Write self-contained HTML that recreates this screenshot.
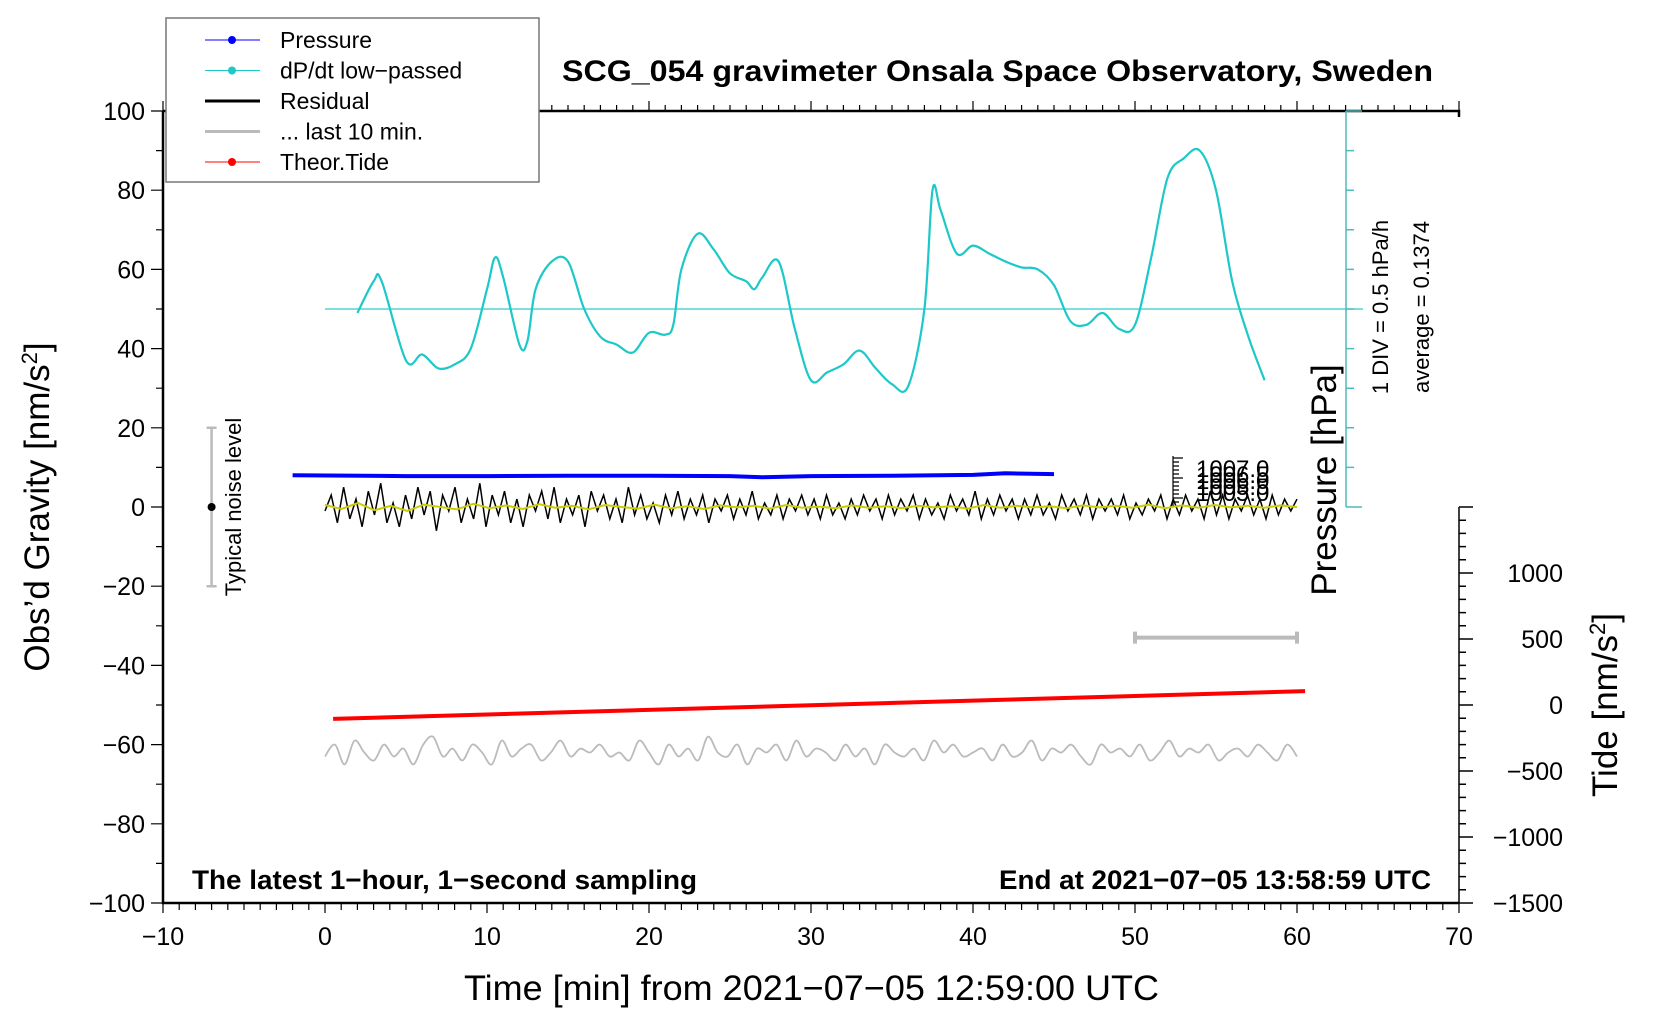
<!DOCTYPE html>
<html><head><meta charset="utf-8"><style>
body{margin:0;background:#fff;}
svg{display:block;font-family:"Liberation Sans",sans-serif;}
</style></head><body>
<svg id="c" width="1660" height="1020" viewBox="0 0 1660 1020" xmlns="http://www.w3.org/2000/svg">
<g id="marks"></g>
<g id="axes"></g>
</svg>
<script>
const dpTimes=[2,3,3.5,5,6,7,8,9,10,10.5,11,12,12.5,13,14,15,16,17,18,19,20,21,21.5,22,23,24,25,26,26.5,27,28,29,30,31,32,33,34,35,36,37,37.5,38,39,40,41,42,43,44,45,46,47,48,49,50,51,52,53,54,55,56,57,58];
const dpValues=[49,57,57,37,38.5,35,36,40,55,63,58,41,42,55,62,62,50,43,41,39,44,43.5,46,60,69,65,59,57,55,58,62,45,32,34,36,39.5,35,31,30.5,50,80,75,64,66,64,62,60.5,60,56,47,46,49,45,46,63,83,88,90,80,57,43,32];
const pressTimes=[-2,5,10,15,20,25,27,30,35,40,42,45];
const pressValues=[8,7.8,7.8,7.9,7.9,7.8,7.5,7.8,7.9,8.1,8.5,8.3];
const residual=[-1,3,-4,5,-3,2,-5,4,-2,6,-4,1,-5,3,-3,5,-2,4,-6,3,-1,5,-4,2,-3,6,-5,3,-2,4,-4,2,-5,3,-1,4,-3,5,-4,2,-2,3,-5,4,-1,3,-3,2,-4,5,-2,3,-3,1,-4,3,-2,4,-3,2,-2,3,-4,2,-1,3,-3,2,-2,4,-3,1,-2,3,-3,2,-1,3,-2,2,-3,3,-2,1,-3,2,-2,3,-1,2,-3,3,-2,2,-1,3,-3,2,-2,1,-3,3,-1,2,-2,4,-3,2,-2,3,-1,2,-3,2,-2,3,-2,1,-3,3,-1,2,-2,3,-3,2,-1,2,-2,3,-3,1,-2,2,-1,3,-3,2,-2,3,-1,2,-3,4,-2,3,-3,2,-1,3,-2,2,-3,3,-2,2,-1,2];
const lowpass=[0.5,-0.5,1,-0.8,0.3,-1,0.6,0,-0.6,0.8,-0.3,0.4,-0.5,0.7,-0.2,0.3,-0.6,0.5,0,-0.4,0.6,-0.3,0.2,-0.5,0.4,-0.1,0.3,-0.4,0.5,-0.2,0.1,-0.3,0.4,-0.2,0.2,-0.3,0.3,-0.1,0.2,-0.4,0.5,-0.2,0.3,-0.1,0.2,-0.3,0.4,-0.1,0.3,-0.2,0.6,-0.3,0.4,-0.2,0.5,-0.1,0.3,-0.2,0.4,0];
const last10=[-63,-60,-65,-59,-62,-64,-60,-63,-61,-65,-60,-58,-63,-61,-64,-60,-62,-65,-59,-63,-61,-60,-64,-62,-59,-63,-61,-62,-60,-63,-62,-64,-59,-62,-65,-60,-63,-61,-64,-58,-62,-63,-60,-65,-61,-62,-60,-64,-59,-63,-61,-62,-64,-60,-63,-61,-65,-60,-62,-63,-61,-64,-59,-62,-60,-63,-62,-61,-64,-60,-63,-62,-59,-64,-61,-62,-60,-63,-65,-60,-62,-61,-63,-60,-64,-62,-59,-63,-61,-62,-60,-64,-62,-61,-63,-60,-62,-64,-60,-63];
const tideTimes=[0.5,60.5];
const tideValues=[-105,105];
const xTicks=[-10,0,10,20,30,40,50,60,70];
const yTicks=[100,80,60,40,20,0,-20,-40,-60,-80,-100];
const tideTicks=[1000,500,0,-500,-1000,-1500];

const NS="http://www.w3.org/2000/svg";
const L=163,R=1459,T=111,B=903;
const X=t=>L+(t+10)*(R-L)/80;
const Y=g=>T+(100-g)*(B-T)/200;
function yTide(v){return Y(-50)-v*(198/1500);}
const marks=document.getElementById('marks'),axes=document.getElementById('axes');
function mk(tag,attrs,parent,text){const e=document.createElementNS(NS,tag);for(const k in attrs)e.setAttribute(k,attrs[k]);if(text!==undefined)e.textContent=text;parent.appendChild(e);return e;}
function pts(ts,vs,fy){return ts.map((t,i)=>X(t).toFixed(1)+','+fy(vs[i]).toFixed(1)).join(' ');}
function smooth(ts,vs,fy){const p=ts.map((t,i)=>[X(t),fy(vs[i])]);let d=`M${p[0][0]},${p[0][1]}`;
for(let i=0;i<p.length-1;i++){const p0=p[Math.max(0,i-1)],p1=p[i],p2=p[i+1],p3=p[Math.min(p.length-1,i+2)];
const c1=[p1[0]+(p2[0]-p0[0])/6,p1[1]+(p2[1]-p0[1])/6],c2=[p2[0]-(p3[0]-p1[0])/6,p2[1]-(p3[1]-p1[1])/6];
d+=`C${c1[0].toFixed(1)},${c1[1].toFixed(1)} ${c2[0].toFixed(1)},${c2[1].toFixed(1)} ${p2[0].toFixed(1)},${p2[1].toFixed(1)}`;}return d;}
function evenTimes(arr,a,b){return arr.map((_,i)=>a+(b-a)*i/(arr.length-1));}

let e=mk('line',{x1:X(0),x2:1363,y1:Y(50),y2:Y(50),stroke:'#3cc',"stroke-width":1.3},marks);

e=mk('path',{d:smooth(dpTimes,dpValues,Y),fill:'none',stroke:'#1cc8c8',"stroke-width":2.2},marks);

e=mk('polyline',{points:pts(pressTimes,pressValues,Y),fill:'none',stroke:'#0000ff',"stroke-width":4},marks);

e=mk('polyline',{points:pts(evenTimes(residual,0,60),residual,Y),fill:'none',stroke:'#000',"stroke-width":1.5},marks);

e=mk('polyline',{points:pts(evenTimes(lowpass,0,60),lowpass,Y),fill:'none',stroke:'#cccc00',"stroke-width":2},marks);

e=mk('path',{d:smooth(evenTimes(last10,0,60),last10,Y),fill:'none',stroke:'#bbb',"stroke-width":1.8},marks);

e=mk('polyline',{points:pts(tideTimes,tideValues,yTide),fill:'none',stroke:'#ff0000',"stroke-width":4},marks);

const sb=Y(-33);
e=mk('path',{d:`M${X(50)},${sb}H${X(60)}M${X(50)},${sb-6}V${sb+6}M${X(60)},${sb-6}V${sb+6}`,stroke:'#bbb',"stroke-width":4,fill:'none'},marks);

e=mk('path',{d:`M${X(-7)},${Y(20)}V${Y(-20)}M${X(-7)-5},${Y(20)}H${X(-7)+5}M${X(-7)-5},${Y(-20)}H${X(-7)+5}`,stroke:'#bbb',"stroke-width":2.5,fill:'none'},marks);

e=mk('circle',{cx:X(-7),cy:Y(0),r:4,fill:'#000'},marks);

e=mk('text',{x:0,y:0,transform:`translate(${X(-5.2)},${Y(0)}) rotate(-90)`,"text-anchor":"middle","font-size":22},marks,'Typical noise level');


e=mk('path',{d:`M${L},${T}V${B}H${R}M${L},${T}H${R}V${T+6}`,stroke:'#000',"stroke-width":2.5,fill:'none'},axes);

let d='';
for(let t=-10;t<=70;t++){const x=X(t);const maj=t%10===0;d+=`M${x},${B}V${B+(maj?10:7)}M${x},${T}V${T-(maj?10:6)}`;}
e=mk('path',{d:d,stroke:'#000',"stroke-width":1.2},axes);

xTicks.forEach(t=>{const el=mk('text',{x:X(t),y:B+42,"text-anchor":"middle","font-size":25},axes,String(t).replace('-','\u2212'));
});
d='';
for(let g=-100;g<=100;g+=10){d+=`M${L},${Y(g)}H${L-(g%20===0?12:7)}`;}
e=mk('path',{d:d,stroke:'#000',"stroke-width":1.2},axes);

yTicks.forEach(g=>{const el=mk('text',{x:L-18,y:Y(g)+9,"text-anchor":"end","font-size":25},axes,String(g).replace('-','\u2212'));
});
const tTop=yTide(1500);
d=`M${R},${tTop}V${B}`;
for(let v=-1500;v<=1500;v+=100){d+=`M${R},${yTide(v)}H${R+(v%500===0?14:7)}`;}
e=mk('path',{d:d,stroke:'#000',"stroke-width":1.5,fill:'none'},axes);

tideTicks.forEach(v=>{const el=mk('text',{x:1563,y:yTide(v)+9,"text-anchor":"end","font-size":25},axes,String(v).replace('-','\u2212'));
});
const PX=1346;
d=`M${PX},${T}V${Y(0)}M${PX},${Y(0)}H${PX+16}M${PX},${T}H${PX+16}`;
for(let g=10;g<100;g+=10){d+=`M${PX},${Y(g)}H${PX+8}`;}
e=mk('path',{d:d,stroke:'#4cbcbc',"stroke-width":1.5,fill:'none'},axes);

d='';for(let i=0;i<12;i++){d+=`M1173,${458+i*4}H${1173+(i%5===0?10:6)}`;}d+='M1173,456V506';
e=mk('path',{d:d,stroke:'#000',"stroke-width":1.2,fill:'none'},axes);

['1007.0','1006.5','1006.0','1005.5','1005.0'].forEach((s,i)=>{const el=mk('text',{x:1196,y:477+i*6,"font-size":24},axes,s);
});

function txt(name,attrs,s,html){const el=mk('text',attrs,axes);if(html)el.innerHTML=s;else el.textContent=s;return el;}
txt('chart-title',{x:562,y:81,"font-size":30,"font-weight":"bold",textLength:871,lengthAdjust:"spacingAndGlyphs"},'SCG_054 gravimeter Onsala Space Observatory, Sweden');
txt('x-axis-title',{x:464,y:1000,"font-size":35,textLength:695,lengthAdjust:"spacingAndGlyphs"},'Time [min] from 2021\u221207\u221205 12:59:00 UTC');
txt('y-axis-title',{transform:'translate(49,507) rotate(-90)',"text-anchor":"middle","font-size":35},'Obs\u2019d Gravity [nm/s<tspan font-size="22" dy="-12">2</tspan><tspan dy="12">]</tspan>',true);
txt('tide-axis-title',{transform:'translate(1617,705) rotate(-90)',"text-anchor":"middle","font-size":35},'Tide [nm/s<tspan font-size="22" dy="-12">2</tspan><tspan dy="12">]</tspan>',true);
txt('pressure-axis-title',{transform:'translate(1336,480) rotate(-90)',"text-anchor":"middle","font-size":35},'Pressure [hPa]');
txt('div-annotation',{transform:'translate(1388,307) rotate(-90)',"text-anchor":"middle","font-size":22},'1 DIV = 0.5 hPa/h');
txt('average-annotation',{transform:'translate(1429,307) rotate(-90)',"text-anchor":"middle","font-size":22},'average = 0.1374');
txt('sampling-note',{x:192,y:889,"font-size":27,"font-weight":"bold",textLength:505,lengthAdjust:"spacingAndGlyphs"},'The latest 1\u2212hour, 1\u2212second sampling');
txt('end-time-note',{x:999,y:889,"font-size":27,"font-weight":"bold",textLength:432,lengthAdjust:"spacingAndGlyphs"},'End at 2021\u221207\u221205 13:58:59 UTC');

const lg=mk('g',{},axes);

mk('rect',{x:166,y:18,width:373,height:164,fill:'#fff',stroke:'#777',"stroke-width":1.5},lg);
const legNames=['Pressure','dP/dt low\u2212passed','Residual','... last 10 min.','Theor.Tide'];
const legColors=['#0000ff','#1cc8c8','#000','#bbb','#ff0000'];
const legDots=[true,true,false,false,true];
legNames.forEach((n,i)=>{const y=40+i*30.5;const g=mk('g',{},lg);

mk('line',{x1:205,x2:260,y1:y,y2:y,stroke:legColors[i],"stroke-width":legDots[i]?1:3},g);
if(legDots[i])mk('circle',{cx:232,cy:y,r:4,fill:legColors[i]},g);
mk('text',{x:280,y:y+8,"font-size":23},g,n);});
</script>
</body></html>
